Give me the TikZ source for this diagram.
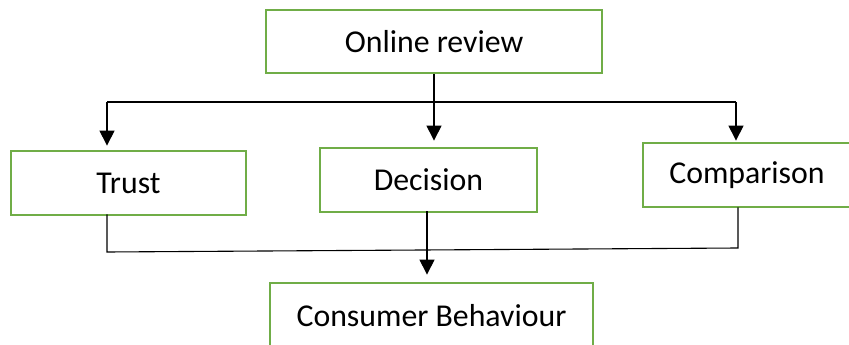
\documentclass[tikz,border=0pt]{standalone}
\usepackage{fontspec}
\setmainfont{Carlito}
\usetikzlibrary{arrows.meta}
\definecolor{boxgreen}{HTML}{70AD47}
\begin{document}
\begin{tikzpicture}[x=1pt,y=-1pt,
  box/.style={draw=boxgreen, line width=2.8pt, inner sep=0pt,
    font=\fontsize{31.8}{38}\selectfont, text=black},
  conn/.style={draw=black, line width=1.1pt},
  arr/.style={conn, -{Triangle[length=15pt,width=15pt]}}]
\path[use as bounding box] (0,0) rectangle (849,345);
\clip (0,0) rectangle (849,345);
\node[box, minimum width=336pt, minimum height=63pt] (onl) at (434,41.5) {Online review};
\node[box, minimum width=235pt, minimum height=64pt] (trust) at (128.5,183) {Trust};
\node[box, minimum width=217pt, minimum height=64pt] (dec) at (428.5,180) {Decision};
\node[box, minimum width=208pt, minimum height=64pt] (comp) at (747,175) {Comparison};
\node[box, minimum width=323pt, minimum height=65pt] (cons) at (431.5,315.5) {Consumer Behaviour};
\coordinate (jl) at (107,102);
\coordinate (jr) at (736,102);
\coordinate (bl) at (107,252);
\coordinate (br) at (738,248);
\coordinate (dx) at (427,0);
\draw[conn] (jl) -- (jr);
\draw[arr, shorten >=6pt] (onl.south) -- (onl.south |- dec.north);
\draw[arr, shorten >=4pt] (jl) -- (jl |- trust.north);
\draw[arr, shorten >=1pt] (jr) -- (jr |- comp.north);
\draw[conn] ([yshift=2pt]trust.south -| bl) -- (bl) -- (br) -- ([yshift=1pt]comp.south -| br);
\draw[arr, shorten >=7pt] ([yshift=2pt]dec.south -| dx) -- (cons.north -| dx);
\end{tikzpicture}
\end{document}
